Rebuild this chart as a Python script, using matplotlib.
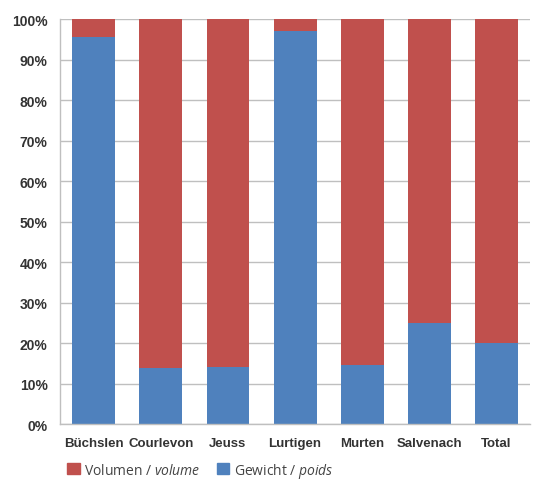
import matplotlib.pyplot as plt
from matplotlib.patches import Patch
from matplotlib.ticker import FuncFormatter
import numpy as np

# Anteile pro Ort
orte = ['Büchslen', 'Courlevon', 'Jeuss', 'Lurtigen', 'Murten', 'Salvenach', 'Total']
gewicht = [95.5, 13.8, 14.1, 97.0, 14.5, 24.9, 19.9]
volumen = [100 - g for g in gewicht]

blau = '#4F81BD'
rot = '#C0504D'

plt.rcParams['mathtext.fontset'] = 'custom'
plt.rcParams['mathtext.rm'] = 'Open Sans'
plt.rcParams['mathtext.it'] = 'Open Sans:italic'

fig = plt.figure(figsize=(5.47, 4.81), dpi=100)
ax = fig.add_axes([0.110, 0.1164, 0.859, 0.842])

x = np.arange(len(orte))
ax.bar(x, gewicht, width=0.64, color=blau, zorder=2)
ax.bar(x, volumen, width=0.64, bottom=gewicht, color=rot, zorder=2)

ax.set_xlim(-0.5, len(orte) - 0.5)
ax.set_ylim(0, 100)
ax.set_yticks(np.arange(0, 101, 10))
ax.yaxis.set_major_formatter(FuncFormatter(lambda v, p: f'{int(v)}%'))
ax.set_xticks(x)
ax.set_xticklabels(orte)
ax.grid(axis='y', color='#BFBFBF', linewidth=1, zorder=0)
ax.tick_params(length=0, labelsize=9.5, labelcolor='#333333')
for lab in ax.get_yticklabels() + ax.get_xticklabels():
    lab.set_fontfamily('Liberation Sans')
    lab.set_fontweight('bold')
ax.tick_params(axis='y', labelsize=10, pad=9)
ax.tick_params(axis='x', pad=9)

for s in ['top', 'right']:
    ax.spines[s].set_visible(False)
for s in ['left', 'bottom']:
    ax.spines[s].set_color('#BFBFBF')
    ax.spines[s].set_linewidth(1)

handles = [Patch(color=rot), Patch(color=blau)]
labels = ['Volumen / $\\mathit{volume}$', 'Gewicht / $\\mathit{poids}$']
leg = fig.legend(handles, labels, loc='lower left', bbox_to_anchor=(0.1, -0.025),
                 ncol=2, frameon=False, handlelength=0.9, handleheight=0.9,
                 handletextpad=0.3, columnspacing=1.2,
                 prop={'family': 'Open Sans', 'size': 10})
for t in leg.get_texts():
    t.set_color('#444444')

plt.savefig('out.png', dpi=100)
